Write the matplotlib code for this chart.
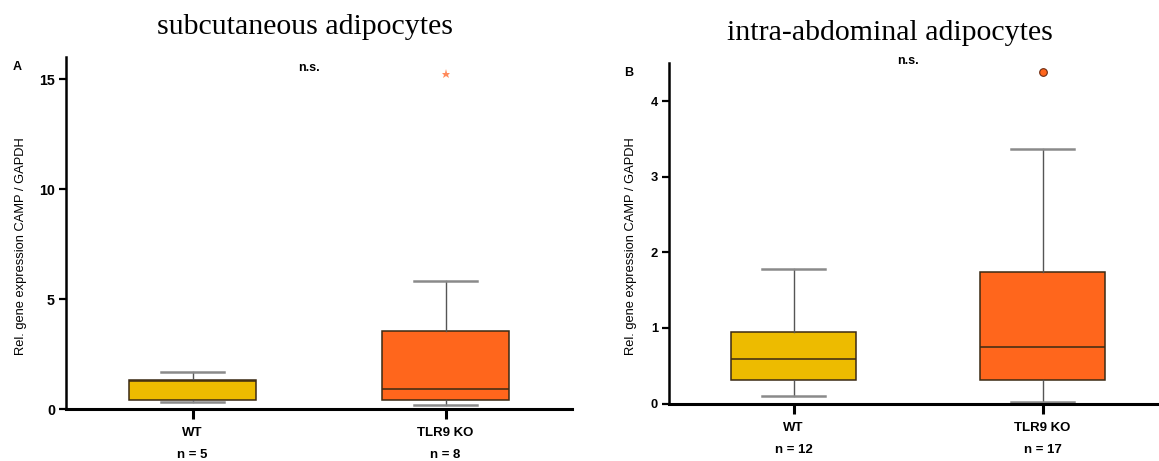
import matplotlib
matplotlib.use("Agg")
import matplotlib.pyplot as plt
import matplotlib.transforms as mtransforms

# ---------------- data ----------------
groups = ["WT", "TLR9 KO"]
n_left = ["n = 5", "n = 8"]
n_right = ["n = 12", "n = 17"]

# subcutaneous (panel A)
sc_whislo = [0.32, 0.18]
sc_q1 = [0.41, 0.41]
sc_med = [1.28, 0.90]
sc_q3 = [1.32, 3.56]
sc_whishi = [1.67, 5.84]
sc_fliers = [[], [15.24]]

# intra-abdominal (panel B)
ia_whislo = [0.10, 0.024]
ia_q1 = [0.307, 0.315]
ia_med = [0.593, 0.743]
ia_q3 = [0.946, 1.74]
ia_whishi = [1.78, 3.37]
ia_fliers = [[], [4.38]]

colors = ["#EDBB00", "#FF661C"]

W, H = 1159, 461
fig = plt.figure(figsize=(W / 100, H / 100), dpi=100)
SANS = ["Liberation Sans", "DejaVu Sans"]
SERIF = ["Liberation Serif", "DejaVu Serif"]


def rect(x0, x1, ytop, ybot):
    return [x0 / W, (H - ybot) / H, (x1 - x0) / W, (ybot - ytop) / H]


def make_stats(whislo, q1, med, q3, whishi, fliers):
    out = []
    for i in range(len(q1)):
        out.append(dict(whislo=whislo[i], q1=q1[i], med=med[i], q3=q3[i],
                        whishi=whishi[i], fliers=fliers[i], label=groups[i]))
    return out


def draw(ax, stats, ylim, yticks, tick_fs, flier_kw, ns_y, lcoords):
    bp = ax.bxp(stats, positions=[0, 1], widths=0.5, patch_artist=True,
                showfliers=False, capwidths=0.25,
                boxprops=dict(edgecolor="#3b2a14", linewidth=1.1),
                medianprops=dict(color="#3b2a14", linewidth=1.1),
                whiskerprops=dict(color="#555555", linewidth=1.0),
                capprops=dict(color="#8a8a8a", linewidth=1.8))
    for patch, c in zip(bp["boxes"], colors):
        patch.set_facecolor(c)
    for i, st in enumerate(stats):
        if st["fliers"]:
            ax.plot([i] * len(st["fliers"]), st["fliers"], linestyle="none",
                    clip_on=False, **flier_kw)
    ax.set_xlim(-0.5, 1.5)
    ax.set_ylim(*ylim)
    ax.set_yticks(yticks)
    ax.set_yticklabels([str(t) for t in yticks], fontfamily=SANS,
                       fontsize=tick_fs, fontweight="bold")
    ax.set_xticks([0, 1])
    ax.set_xticklabels(groups, fontfamily=SANS, fontsize=9.5, fontweight="bold")
    for s in ["top", "right"]:
        ax.spines[s].set_visible(False)
    ax.spines["left"].set_linewidth(1.8)
    ax.spines["bottom"].set_linewidth(2.2)
    ax.tick_params(axis="y", direction="out", length=5, width=1.6, pad=3)
    ax.tick_params(axis="x", direction="out", length=7, width=2.2, pad=6)
    ax.set_ylabel("Rel. gene expression CAMP / GAPDH", fontfamily=SANS,
                  fontsize=9.3)
    ax.yaxis.set_label_coords(*lcoords)
    ax.text(0.46, ns_y, "n.s.", fontfamily=SANS, fontsize=9, fontweight="bold",
            ha="center", va="center", clip_on=False)


# Panel A
axA = fig.add_axes(rect(66, 572, 57.3, 409))
draw(axA, make_stats(sc_whislo, sc_q1, sc_med, sc_q3, sc_whishi, sc_fliers),
     (0, 16), [0, 5, 10, 15], 10.3,
     dict(marker="*", markersize=6.5, color="#FF8A5C", markeredgewidth=0), 15.5,
     (-0.078, 0.463))

# Panel B
axB = fig.add_axes(rect(669, 1167, 63.2, 403.5))
draw(axB, make_stats(ia_whislo, ia_q1, ia_med, ia_q3, ia_whishi, ia_fliers),
     (0, 4.5), [0, 1, 2, 3, 4], 9.3,
     dict(marker="o", markersize=5.5, markerfacecolor="#FF661C",
          markeredgecolor="#6b2a10", markeredgewidth=0.8), 4.53,
     (-0.065, 0.461))

# n labels below x ticks
for ax, labels, ypix in [(axA, n_left, 455), (axB, n_right, 450)]:
    tr = mtransforms.blended_transform_factory(ax.transData, fig.transFigure)
    for i, lab in enumerate(labels):
        ax.text(i, (H - ypix) / H, lab, transform=tr, ha="center", va="center",
                fontfamily=SANS, fontsize=9.5, fontweight="bold")

# panel letters
fig.text(16.7 / W, (H - 66.7) / H, "A", fontfamily=SANS, fontsize=9,
         fontweight="bold", ha="center", va="center")
fig.text(629 / W, (H - 73) / H, "B", fontfamily=SANS, fontsize=9,
         fontweight="bold", ha="center", va="center")

# titles
fig.text(305 / W, (H - 27) / H, "subcutaneous adipocytes", fontfamily=SERIF,
         fontsize=21.5, ha="center", va="center")
fig.text(890 / W, (H - 33) / H, "intra-abdominal adipocytes", fontfamily=SERIF,
         fontsize=21.5, ha="center", va="center")

fig.savefig("out.png", dpi=100)
